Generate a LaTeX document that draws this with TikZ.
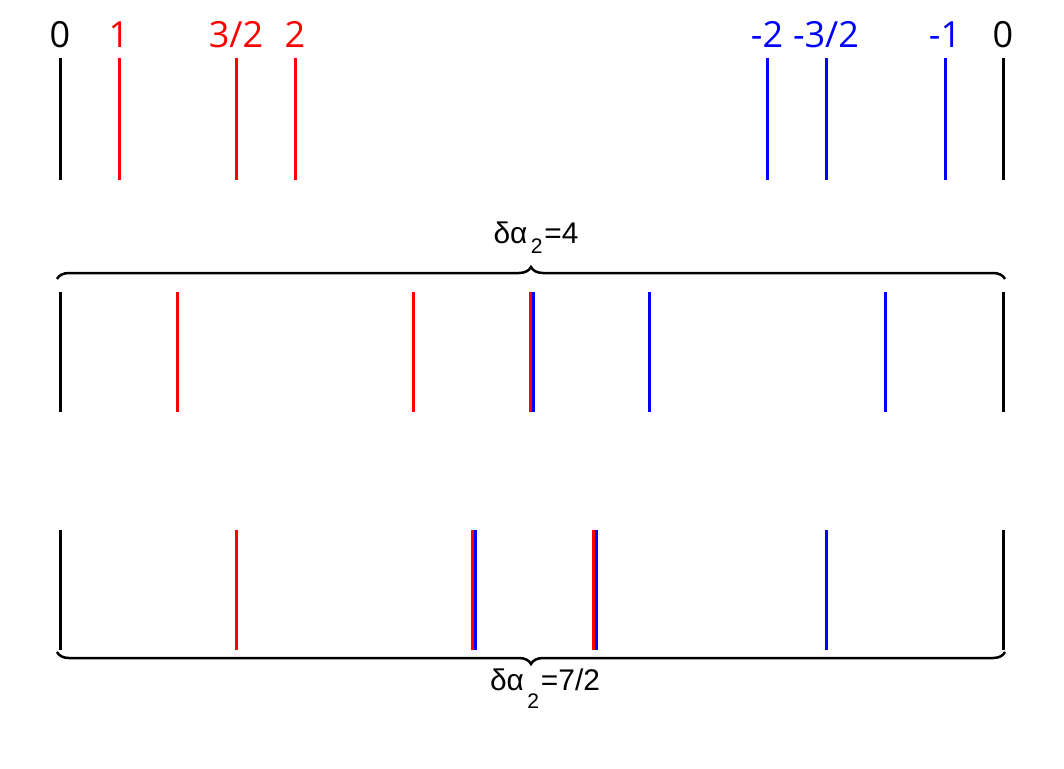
\documentclass[tikz,border=0pt]{standalone}
\usepackage{fontspec}
\setmainfont{Open Sans}
\newfontfamily\greekfont{Liberation Sans}
\usepackage{tikz}
\usetikzlibrary{decorations.pathreplacing}
\definecolor{shiftred}{RGB}{255,0,0}
\definecolor{shiftblue}{RGB}{0,0,255}

\begin{document}
\begin{tikzpicture}[x=0.02cm, y=-0.02cm,
  tick/.style={line width=0.06cm},
  ticklbl/.style={anchor=base, inner sep=0pt, font=\fontsize{20.5}{24}\selectfont},
  gapbrace/.style={decorate, decoration={brace, amplitude=0.24cm}, line width=0.05cm},
  gaplbl/.style={anchor=base, inner sep=0pt, font=\greekfont\fontsize{17}{20}\selectfont}]
  \useasboundingbox (0,0) rectangle (1064,768);

  % top row: charges
  \draw[tick] (60,58) -- (60,180);
  \draw[tick] (1003,58) -- (1003,180);
  \draw[tick, shiftred] (119,58) -- (119,180);
  \draw[tick, shiftred] (236,58) -- (236,180);
  \draw[tick, shiftred] (295,58) -- (295,180);
  \draw[tick, shiftblue] (767,58) -- (767,180);
  \draw[tick, shiftblue] (826,58) -- (826,180);
  \draw[tick, shiftblue] (945,58) -- (945,180);
  \node[ticklbl] (zeroL) at (60,47) {0};
  \node[ticklbl, shiftred] (one) at (119,47) {1};
  \node[ticklbl, shiftred] (threehalf) at (236,47) {3/2};
  \node[ticklbl, shiftred] (two) at (295,47) {2};
  \node[ticklbl, shiftblue] (mtwo) at (767,47) {-2};
  \node[ticklbl, shiftblue] (mthreehalf) at (826,47) {-3/2};
  \node[ticklbl, shiftblue] (mone) at (945,47) {-1};
  \node[ticklbl] (zeroR) at (1003,47) {0};

  % middle row: shift by 4
  \draw[gapbrace] (57,279) -- (1005,279);
  \node[gaplbl] (gapfour) at (536,243) {δα\kern2pt\raisebox{-0.2cm}{\fontsize{12}{13}\selectfont 2}\kern1pt=4};
  \draw[tick] (60,292) -- (60,412);
  \draw[tick] (1003,292) -- (1003,412);
  \draw[tick, shiftred] (177,292) -- (177,412);
  \draw[tick, shiftred] (413,292) -- (413,412);
  \draw[tick, shiftblue] (533,292) -- (533,412);
  \draw[tick, shiftred] (530,292) -- (530,412);
  \draw[tick, shiftblue] (649,292) -- (649,412);
  \draw[tick, shiftblue] (885,292) -- (885,412);

  % bottom row: shift by 7/2
  \draw[tick] (60,530) -- (60,650);
  \draw[tick] (1003,530) -- (1003,650);
  \draw[tick, shiftred] (236,530) -- (236,650);
  \draw[tick, shiftblue] (475,530) -- (475,650);
  \draw[tick, shiftred] (472,530) -- (472,650);
  \draw[tick, shiftblue] (596,530) -- (596,650);
  \draw[tick, shiftred] (593,530) -- (593,650);
  \draw[tick, shiftblue] (826,530) -- (826,650);
  \draw[gapbrace] (1005,652) -- (57,652);
  \node[gaplbl] (gapseven) at (545,690) {δα\kern2pt\raisebox{-0.36cm}{\fontsize{12}{13}\selectfont 2}\kern1pt=7/2};
\end{tikzpicture}
\end{document}
